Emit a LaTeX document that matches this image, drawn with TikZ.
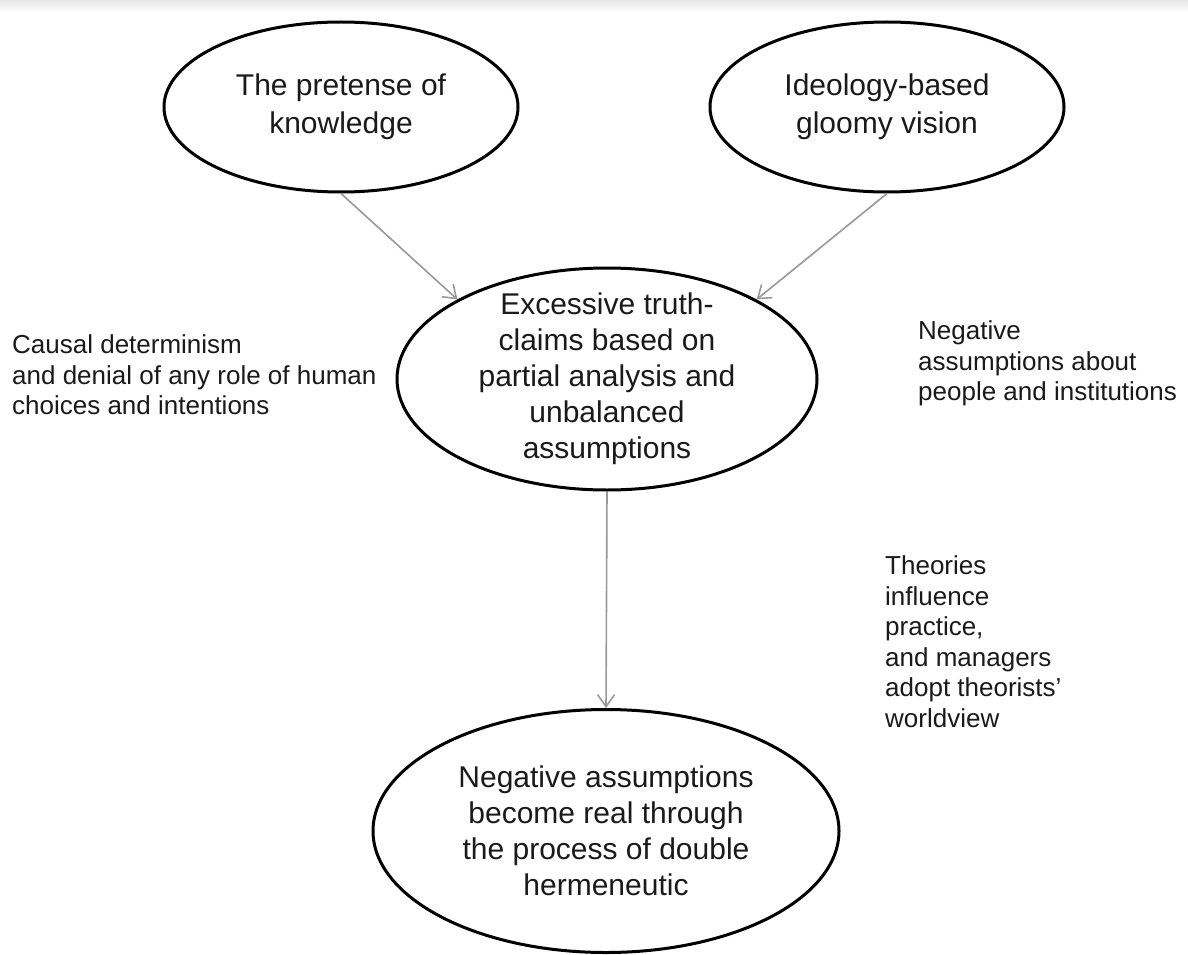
\documentclass[tikz,border=0pt]{standalone}
\usepackage{fontspec}
\setmainfont{Liberation Sans}
\usetikzlibrary{shapes.geometric,arrows.meta}

\definecolor{inkc}{HTML}{1A1A1A}
\definecolor{linkc}{HTML}{999999}

\tikzset{
  bubble/.style={ellipse, draw=black, line width=3pt, inner sep=0pt, fill=white},
  bubbletext/.style={align=center, text=inkc, inner sep=0pt, font=\fontsize{30}{36}\selectfont},
  sidenote/.style={align=left, text=inkc, inner sep=0pt, anchor=north west,
                   font=\fontsize{26}{30.5}\selectfont},
  link/.style={draw=linkc, line width=1.6pt,
               -{Straight Barb[length=12pt,width=17pt,line width=1.6pt]}}
}

\begin{document}
\begin{tikzpicture}[x=1pt,y=-1pt]
  \useasboundingbox (0,0) rectangle (1188,955);
  \fill[white] (0,0) rectangle (1188,955);
  \shade[top color=black!10, bottom color=white] (0,0) rectangle (1188,12);

  % ellipses
  \node[bubble, minimum width=354pt, minimum height=170pt] (know) at (341,107) {};
  \node[bubble, minimum width=354pt, minimum height=170pt] (ideo) at (887,107) {};
  \node[bubble, minimum width=420pt, minimum height=222pt] (claims) at (607,379) {};
  \node[bubble, minimum width=466pt, minimum height=243pt] (real) at (606,831) {};

  % ellipse texts
  \node[bubbletext, font=\fontsize{30}{38}\selectfont] (knowtxt) at (know.center) {The pretense of\\knowledge};
  \node[bubbletext, font=\fontsize{30}{38}\selectfont] (ideotxt) at (ideo.center) {Ideology-based\\gloomy vision};
  \node[bubbletext] (claimstxt) at (claims.center) {Excessive truth-\\claims based on\\partial analysis and\\unbalanced\\assumptions};
  \node[bubbletext] (realtxt) at (real.center) {Negative assumptions\\become real through\\the process of double\\hermeneutic};

  % side notes
  \node[sidenote] (causal) at (12,334.5) {Causal determinism\\and denial of any role of human\\choices and intentions};
  \node[sidenote] (negass) at (918,320.5) {Negative\\assumptions about\\people and institutions};
  \node[sidenote] (theories) at (885,555.5) {Theories\\influence\\practice,\\and managers\\adopt theorists'\\worldview};

  % connectors
  \draw[link] (know.south) -- (claims.152);
  \draw[link] (ideo.south) -- (claims.28);
  \draw[link] (claims.south) -- (real.north);
\end{tikzpicture}
\end{document}
